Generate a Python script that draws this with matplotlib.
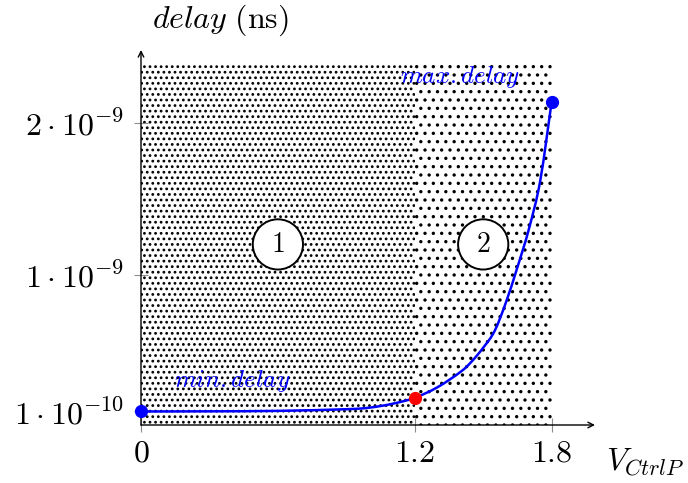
import matplotlib
matplotlib.use("Agg")
import matplotlib.pyplot as plt
from matplotlib.path import Path
from matplotlib.patches import PathPatch

plt.rcParams["mathtext.fontset"] = "cm"
plt.rcParams["hatch.linewidth"] = 1.2

# data (delay in seconds)
v_ctrl = [0.0, 0.3, 0.6, 0.9, 1.0, 1.1, 1.2, 1.3, 1.4, 1.45, 1.5, 1.55,
          1.6, 1.65, 1.7, 1.75, 1.8]
delay = [0.100e-9, 0.101e-9, 0.104e-9, 0.115e-9, 0.125e-9, 0.150e-9,
         0.190e-9, 0.26e-9, 0.36e-9, 0.43e-9, 0.52e-9, 0.63e-9,
         0.82e-9, 1.05e-9, 1.30e-9, 1.62e-9, 2.14e-9]

min_point = (0.0, 0.100e-9)
switch_point = (1.2, 0.190e-9)
max_point = (1.8, 2.14e-9)

region_edges = [0.0, 1.2, 1.8]
region_top = 2.38e-9
region_labels = ["1", "2"]
region_label_x = [0.6, 1.5]
region_label_y = 1.2e-9

x_ticks = [0, 1.2, 1.8]
x_tick_labels = [r"$0$", r"$1.2$", r"$1.8$"]
y_ticks = [1e-10, 1e-9, 2e-9]
y_tick_labels = [r"$1\cdot10^{-10}$", r"$1\cdot10^{-9}$", r"$2\cdot10^{-9}$"]

XMIN, XMAX = 0.0, 1.99
YMIN, YMAX = 0.011e-9, 2.48e-9
BLUE = "#0000ff"
TICK_COLOR = "#8c8c8c"
FONT_SIZE = 23


def smooth_path(xs, ys):
    # catmull-rom style bezier through the points, like "smooth" in pgfplots
    pts = list(zip(xs, ys))
    verts = [pts[0]]
    codes = [Path.MOVETO]
    for i in range(len(pts) - 1):
        p0 = pts[i - 1] if i > 0 else pts[i]
        p1 = pts[i]
        p2 = pts[i + 1]
        p3 = pts[i + 2] if i + 2 < len(pts) else pts[i + 1]
        c1 = (p1[0] + (p2[0] - p0[0]) / 6, p1[1] + (p2[1] - p0[1]) / 6)
        c2 = (p2[0] - (p3[0] - p1[0]) / 6, p2[1] - (p3[1] - p1[1]) / 6)
        verts += [c1, c2, p2]
        codes += [Path.CURVE4] * 3
    return Path(verts, codes)


def draw_regions(ax):
    hatches = ["...", ".."]
    for i in range(len(region_edges) - 1):
        ax.fill_between([region_edges[i], region_edges[i + 1]], YMIN, region_top,
                        facecolor="none", edgecolor="black", hatch=hatches[i],
                        linewidth=0, zorder=1)
        ax.text(region_label_x[i], region_label_y, "$" + region_labels[i] + "$",
                ha="center", va="center", fontsize=20, zorder=4,
                bbox=dict(boxstyle="circle,pad=0.4", fc="white", ec="black", lw=1.4))


def draw_axes(ax):
    for side in ["top", "right", "left", "bottom"]:
        ax.spines[side].set_visible(False)
    arrow = dict(arrowstyle="->", color="black", lw=1.0, shrinkA=0, shrinkB=0)
    ax.annotate("", xy=(1, 0), xytext=(0, 0), xycoords="axes fraction", arrowprops=arrow)
    ax.annotate("", xy=(0, 1), xytext=(0, 0), xycoords="axes fraction", arrowprops=arrow)

    ax.set_xticks(x_ticks)
    ax.set_xticklabels(x_tick_labels, fontsize=FONT_SIZE)
    ax.set_yticks(y_ticks)
    ax.set_yticklabels(y_tick_labels, fontsize=FONT_SIZE)
    ax.tick_params(axis="x", direction="inout", length=10, width=0.8, color=TICK_COLOR, pad=4)
    ax.tick_params(axis="y", direction="inout", length=10, width=0.8, color=TICK_COLOR, pad=7)


if __name__ == '__main__':
    fig = plt.figure(figsize=(6.88, 4.83), dpi=100)
    ax = fig.add_axes([141 / 688, 58 / 483, (595 - 141) / 688, (425 - 50) / 483])
    ax.set_xlim(XMIN, XMAX)
    ax.set_ylim(YMIN, YMAX)

    draw_regions(ax)

    # curve and markers
    ax.add_patch(PathPatch(smooth_path(v_ctrl, delay), facecolor="none",
                           edgecolor=BLUE, lw=1.8, zorder=3))
    ax.plot([min_point[0], max_point[0]], [min_point[1], max_point[1]], "o",
            color=BLUE, ms=8.5, zorder=5, clip_on=False)
    ax.plot([switch_point[0]], [switch_point[1]], "o", color="red", ms=8.5, zorder=5)

    ax.text(1.40, 2.30e-9, r"$max.delay$", color=BLUE, fontsize=18,
            ha="center", va="center", zorder=4)
    ax.text(0.40, 0.30e-9, r"$min.delay$", color=BLUE, fontsize=18,
            ha="center", va="center", zorder=4)

    draw_axes(ax)

    fig.text(220 / 688, 1 - 20 / 483, r"$delay\ \mathrm{(ns)}$", fontsize=FONT_SIZE,
             ha="center", va="center")
    fig.text(645 / 688, 1 - 462 / 483, r"$V_{CtrlP}$", fontsize=FONT_SIZE,
             ha="center", va="center")

    fig.savefig("out.png", dpi=100)
